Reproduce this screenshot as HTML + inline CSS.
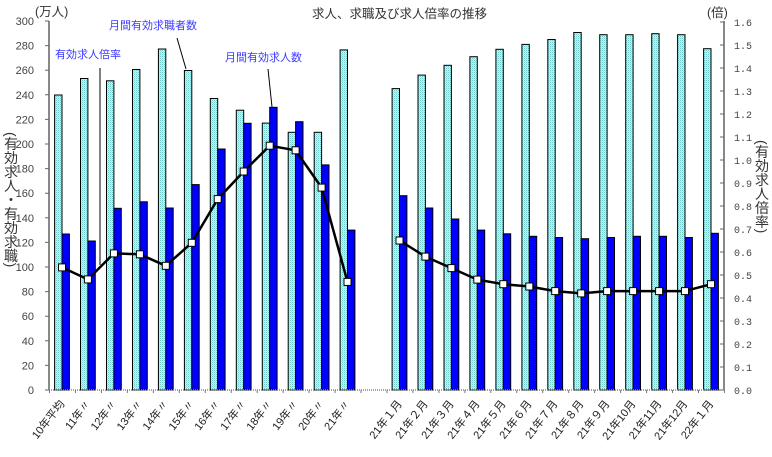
<!DOCTYPE html>
<html><head><meta charset="utf-8"><style>
html,body{margin:0;padding:0;background:#fff;}
#w{position:relative;width:772px;height:457px;overflow:hidden;background:#fff;font-family:"Liberation Sans","Noto Sans CJK JP",sans-serif;}
svg{position:absolute;left:0;top:0;}
.v{position:absolute;writing-mode:vertical-rl;font-size:14px;line-height:14px;color:#333;font-family:"Liberation Sans","Noto Sans CJK JP",sans-serif;}
</style></head><body><div id="w">
<svg width="772" height="457" viewBox="0 0 772 457" xmlns="http://www.w3.org/2000/svg">
<defs>
<pattern id="p" width="2" height="2" patternUnits="userSpaceOnUse">
<rect width="2" height="2" fill="#c8f4f4"/><rect width="1" height="1" fill="#70c8c8"/><rect x="1" y="1" width="1" height="1" fill="#a0e4e4"/>
</pattern>
</defs>
<text x="312" y="18" font-size="12.5" fill="#333" font-family="Liberation Sans, Noto Sans CJK JP, sans-serif">求人、求職及び求人倍率の推移</text>
<text x="35" y="16" font-size="12.5" fill="#333" font-family="Liberation Sans, Noto Sans CJK JP, sans-serif">(万人)</text>
<text x="707" y="17" font-size="12.5" fill="#333" font-family="Liberation Sans, Noto Sans CJK JP, sans-serif">(倍)</text>
<!-- axes -->
<line x1="49" y1="21" x2="49" y2="390" stroke="#888" stroke-width="2"/>
<line x1="724" y1="21" x2="724" y2="390" stroke="#888" stroke-width="2"/>
<line x1="47" y1="390.5" x2="47" y2="20" stroke="#666" stroke-width="4" stroke-dasharray="1 23.6"/>
<line x1="722" y1="390.5" x2="722" y2="20" stroke="#666" stroke-width="4" stroke-dasharray="1 22"/>
<g font-size="11" fill="#444" text-anchor="end" font-family="Liberation Sans, sans-serif">
<text x="34" y="394">0</text><text x="34" y="369.4">20</text><text x="34" y="344.8">40</text><text x="34" y="320.2">60</text><text x="34" y="295.6">80</text><text x="34" y="271">100</text><text x="34" y="246.4">120</text><text x="34" y="221.8">140</text><text x="34" y="197.2">160</text><text x="34" y="172.6">180</text><text x="34" y="148">200</text><text x="34" y="123.4">220</text><text x="34" y="98.8">240</text><text x="34" y="74.2">260</text><text x="34" y="49.6">280</text><text x="34" y="25">300</text>
</g>
<g font-size="10" fill="#444" font-family="Liberation Mono, monospace">
<text x="734" y="394">0.0</text><text x="734" y="371">0.1</text><text x="734" y="348">0.2</text><text x="734" y="325">0.3</text><text x="734" y="302">0.4</text><text x="734" y="279">0.5</text><text x="734" y="256">0.6</text><text x="734" y="233">0.7</text><text x="734" y="210">0.8</text><text x="734" y="187">0.9</text><text x="734" y="164">1.0</text><text x="734" y="141">1.1</text><text x="734" y="118">1.2</text><text x="734" y="95">1.3</text><text x="734" y="72">1.4</text><text x="734" y="49">1.5</text><text x="734" y="26">1.6</text>
</g>
<!-- cyan bars -->
<g fill="url(#p)" stroke="#000" stroke-width="1">
<rect x="54.6" y="95" width="7.4" height="295"/>
<rect x="80.5" y="78.5" width="7.4" height="311.5"/>
<rect x="106.5" y="80.8" width="7.4" height="309.2"/>
<rect x="132.5" y="69.5" width="7.4" height="320.5"/>
<rect x="158.4" y="49" width="7.4" height="341"/>
<rect x="184.4" y="70.5" width="7.4" height="319.5"/>
<rect x="210.3" y="98.5" width="7.4" height="291.5"/>
<rect x="236.3" y="110.2" width="7.4" height="279.8"/>
<rect x="262.3" y="123.1" width="7.4" height="266.9"/>
<rect x="288.2" y="132.3" width="7.4" height="257.7"/>
<rect x="314.2" y="132.3" width="7.4" height="257.7"/>
<rect x="340.1" y="49.9" width="7.4" height="340.1"/>
<rect x="392.1" y="88.6" width="7.4" height="301.4"/>
<rect x="418.0" y="75.1" width="7.4" height="314.9"/>
<rect x="444.0" y="65.3" width="7.4" height="324.7"/>
<rect x="469.9" y="56.7" width="7.4" height="333.3"/>
<rect x="495.9" y="49.3" width="7.4" height="340.7"/>
<rect x="521.9" y="44.4" width="7.4" height="345.6"/>
<rect x="547.8" y="39.5" width="7.4" height="350.5"/>
<rect x="573.8" y="32.5" width="7.4" height="357.5"/>
<rect x="599.7" y="34.7" width="7.4" height="355.3"/>
<rect x="625.7" y="34.7" width="7.4" height="355.3"/>
<rect x="651.7" y="33.7" width="7.4" height="356.3"/>
<rect x="677.6" y="34.7" width="7.4" height="355.3"/>
<rect x="703.6" y="48.7" width="7.4" height="341.3"/>
</g>
<!-- blue bars -->
<g fill="#0000ff" stroke="#000" stroke-width="1">
<rect x="62.0" y="234" width="7.4" height="156"/>
<rect x="87.9" y="241" width="7.4" height="149"/>
<rect x="113.9" y="208.3" width="7.4" height="181.7"/>
<rect x="139.9" y="201.8" width="7.4" height="188.2"/>
<rect x="165.8" y="208" width="7.4" height="182"/>
<rect x="191.8" y="184.6" width="7.4" height="205.4"/>
<rect x="217.7" y="149" width="7.4" height="241"/>
<rect x="243.7" y="123.3" width="7.4" height="266.7"/>
<rect x="269.7" y="107.3" width="7.4" height="282.7"/>
<rect x="295.6" y="121.7" width="7.4" height="268.3"/>
<rect x="321.6" y="164.9" width="7.4" height="225.1"/>
<rect x="347.5" y="230.1" width="7.4" height="159.9"/>
<rect x="399.5" y="195.7" width="7.4" height="194.3"/>
<rect x="425.4" y="208" width="7.4" height="182"/>
<rect x="451.4" y="219" width="7.4" height="171"/>
<rect x="477.3" y="230.1" width="7.4" height="159.9"/>
<rect x="503.3" y="233.8" width="7.4" height="156.2"/>
<rect x="529.3" y="236.3" width="7.4" height="153.7"/>
<rect x="555.2" y="237.5" width="7.4" height="152.5"/>
<rect x="581.2" y="238.7" width="7.4" height="151.3"/>
<rect x="607.1" y="237.5" width="7.4" height="152.5"/>
<rect x="633.1" y="236.3" width="7.4" height="153.7"/>
<rect x="659.1" y="236.3" width="7.4" height="153.7"/>
<rect x="685.0" y="237.5" width="7.4" height="152.5"/>
<rect x="711.0" y="233.3" width="7.4" height="156.7"/>
</g>
<!-- x axis -->
<line x1="49" y1="390" x2="724" y2="390" stroke="#888" stroke-width="1.5" stroke-dasharray="1 1"/>
<line x1="49" y1="391.5" x2="725" y2="391.5" stroke="#777" stroke-width="3" stroke-dasharray="1 24.96"/>
<!-- annotation lines -->
<g stroke="#000" stroke-width="1">
<line x1="100" y1="68" x2="100" y2="265"/>
<line x1="177" y1="38" x2="186" y2="69"/>
<line x1="268" y1="69" x2="272" y2="107"/>
</g>
<!-- ratio line -->
<g fill="none" stroke="#000" stroke-width="2.5" stroke-linejoin="round">
<polyline points="62,267.4 87.9,279.4 113.9,253.4 139.9,254.3 165.8,265.8 191.8,242.8 217.7,199.1 243.7,171.5 269.7,145.7 295.6,150.3 321.6,187.6 347.5,281.9"/>
<polyline points="399.5,240.5 425.4,256.6 451.4,268.1 477.3,279.6 503.3,284.2 529.3,286.5 555.2,291.1 581.2,293.4 607.1,291.1 633.1,291.1 659.1,291.1 685,291.1 711,284.2"/>
</g>
<g fill="#fff" stroke="#000" stroke-width="1">
<rect x="58.5" y="263.9" width="7" height="7"/>
<rect x="84.4" y="275.9" width="7" height="7"/>
<rect x="110.4" y="249.9" width="7" height="7"/>
<rect x="136.4" y="250.8" width="7" height="7"/>
<rect x="162.3" y="262.3" width="7" height="7"/>
<rect x="188.3" y="239.3" width="7" height="7"/>
<rect x="214.2" y="195.6" width="7" height="7"/>
<rect x="240.2" y="168" width="7" height="7"/>
<rect x="266.2" y="142.2" width="7" height="7"/>
<rect x="292.1" y="146.8" width="7" height="7"/>
<rect x="318.1" y="184.1" width="7" height="7"/>
<rect x="344" y="278.4" width="7" height="7"/>
<rect x="396" y="237" width="7" height="7"/>
<rect x="421.9" y="253.1" width="7" height="7"/>
<rect x="447.9" y="264.6" width="7" height="7"/>
<rect x="473.8" y="276.1" width="7" height="7"/>
<rect x="499.8" y="280.7" width="7" height="7"/>
<rect x="525.8" y="283" width="7" height="7"/>
<rect x="551.7" y="287.6" width="7" height="7"/>
<rect x="577.7" y="289.9" width="7" height="7"/>
<rect x="603.6" y="287.6" width="7" height="7"/>
<rect x="629.6" y="287.6" width="7" height="7"/>
<rect x="655.6" y="287.6" width="7" height="7"/>
<rect x="681.5" y="287.6" width="7" height="7"/>
<rect x="707.5" y="280.7" width="7" height="7"/>
</g>
<!-- annotations -->
<g font-size="11" fill="#3b3bff" font-family="Liberation Sans, Noto Sans CJK JP, sans-serif">
<text x="55" y="58">有効求人倍率</text>
<text x="109" y="29">月間有効求職者数</text>
<text x="225" y="61">月間有効求人数</text>
</g>
<!-- x labels -->
<g font-size="11" fill="#222" text-anchor="end" font-family="Liberation Sans, Noto Sans CJK JP, sans-serif">
<text transform="translate(65,404) rotate(-52)">10年平均</text>
<text transform="translate(90.9,404) rotate(-52)">11年〃</text>
<text transform="translate(116.9,404) rotate(-52)">12年〃</text>
<text transform="translate(142.9,404) rotate(-52)">13年〃</text>
<text transform="translate(168.8,404) rotate(-52)">14年〃</text>
<text transform="translate(194.8,404) rotate(-52)">15年〃</text>
<text transform="translate(220.7,404) rotate(-52)">16年〃</text>
<text transform="translate(246.7,404) rotate(-52)">17年〃</text>
<text transform="translate(272.7,404) rotate(-52)">18年〃</text>
<text transform="translate(298.6,404) rotate(-52)">19年〃</text>
<text transform="translate(324.6,404) rotate(-52)">20年〃</text>
<text transform="translate(350.5,404) rotate(-52)">21年〃</text>
<text transform="translate(402.5,404) rotate(-52)">21年１月</text>
<text transform="translate(428.4,404) rotate(-52)">21年２月</text>
<text transform="translate(454.4,404) rotate(-52)">21年３月</text>
<text transform="translate(480.3,404) rotate(-52)">21年４月</text>
<text transform="translate(506.3,404) rotate(-52)">21年５月</text>
<text transform="translate(532.3,404) rotate(-52)">21年６月</text>
<text transform="translate(558.2,404) rotate(-52)">21年７月</text>
<text transform="translate(584.2,404) rotate(-52)">21年８月</text>
<text transform="translate(610.1,404) rotate(-52)">21年９月</text>
<text transform="translate(636.1,404) rotate(-52)">21年10月</text>
<text transform="translate(662.1,404) rotate(-52)">21年11月</text>
<text transform="translate(688,404) rotate(-52)">21年12月</text>
<text transform="translate(714,404) rotate(-52)">22年１月</text>
</g>
</svg>
<div class="v" style="left:4px;top:132px;">(有効求人・有効求職)</div>
<div class="v" style="left:755px;top:140px;">(有効求人倍率)</div>
</div></body></html>
